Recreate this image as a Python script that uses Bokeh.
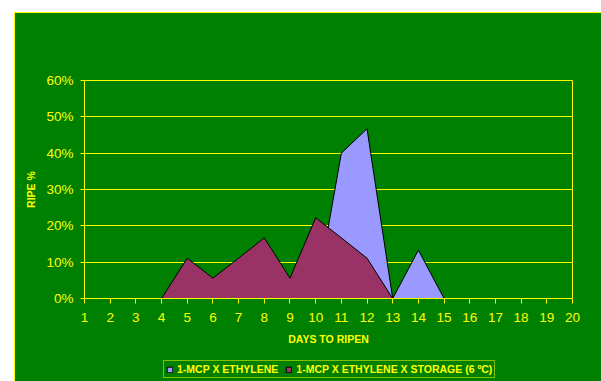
from bokeh.plotting import figure
from bokeh.layouts import column
from bokeh.models import Legend, LegendItem, NumeralTickFormatter, FixedTicker, Range1d
from bokeh.embed import file_html
from bokeh.resources import INLINE

# Days to ripen (x categories) and share of fruit ripe on each day
days = list(range(1, 21))
ethylene = [0, 0, 0, 0, 0, 0, 0, 0, 0, 0,
            0.400, 0.467, 0, 0.133, 0, 0, 0, 0, 0, 0]
ethylene_storage = [0, 0, 0, 0, 0.111, 0.056, 0.111, 0.167, 0.056, 0.222,
                    0.167, 0.111, 0, 0, 0, 0, 0, 0, 0, 0]
y_ticks = [0, 0.1, 0.2, 0.3, 0.4, 0.5, 0.6]

series_names = ["1-MCP X ETHYLENE", "1-MCP X ETHYLENE X STORAGE (6 ºC)"]
series_colors = ["#9999FF", "#993366"]
x_title = "DAYS TO RIPEN"
y_title = "RIPE %"

GREEN = "#008000"
YELLOW = "#FFFF00"
FONT = "Liberation Sans"

# ---- main chart -------------------------------------------------------
p = figure(
    width=586, height=345,
    output_backend="svg", toolbar_location=None,
    x_range=Range1d(1, 20), y_range=Range1d(0, 0.6),
    min_border_left=69, min_border_right=29,
    min_border_top=67, min_border_bottom=60,
    background_fill_color=GREEN, border_fill_color=GREEN,
    outline_line_color=YELLOW, outline_line_width=1,
    margin=0, frame_align=False,
)

p.patch(days, ethylene, fill_color=series_colors[0], line_color="black", line_width=1)
p.patch(days, ethylene_storage, fill_color=series_colors[1], line_color="black", line_width=1)

p.xaxis.ticker = FixedTicker(ticks=days)
p.yaxis.ticker = FixedTicker(ticks=y_ticks)
p.yaxis.formatter = NumeralTickFormatter(format="0%")
p.xaxis.axis_label = x_title
p.yaxis.axis_label = y_title

for ax in (p.xaxis, p.yaxis):
    ax.axis_line_color = YELLOW
    ax.major_tick_line_color = YELLOW
    ax.minor_tick_line_color = None
    ax.major_tick_in = 0
    ax.major_label_text_color = YELLOW
    ax.major_label_text_font = FONT
    ax.major_label_text_font_size = "13.5px"
    ax.axis_label_text_color = YELLOW
    ax.axis_label_text_font = FONT
    ax.axis_label_text_font_style = "bold"
    ax.axis_label_text_font_size = "10.5px"

p.yaxis.axis_label_standoff = 6
p.yaxis.major_tick_out = 4
p.yaxis.major_label_standoff = 7
p.xaxis.major_tick_out = 5
p.xaxis.major_label_standoff = 9
p.xaxis.axis_label_standoff = 8

p.xgrid.grid_line_color = None
p.ygrid.grid_line_color = YELLOW
p.ygrid.grid_line_width = 1

# ---- legend strip under the chart -------------------------------------
# the same series are bound here only as legend keys; the y range keeps
# their areas out of this strip's view
lg = figure(
    width=586, height=23,
    output_backend="svg", toolbar_location=None,
    x_range=Range1d(1, 20), y_range=Range1d(1, 2),
    x_axis_type=None, y_axis_type=None,
    min_border=0, min_border_left=0, min_border_right=0,
    min_border_top=0, min_border_bottom=0,
    background_fill_color=GREEN, border_fill_color=GREEN,
    outline_line_color=None,
    margin=0, frame_align=False,
)
k1 = lg.patch(days, ethylene, fill_color=series_colors[0], line_color="black", line_width=1)
k2 = lg.patch(days, ethylene_storage, fill_color=series_colors[1], line_color="black", line_width=1)

legend = Legend(
    items=[LegendItem(label=series_names[0], renderers=[k1]),
           LegendItem(label=series_names[1], renderers=[k2])],
    orientation="horizontal",
    location=(148, 3),
    background_fill_color=GREEN, background_fill_alpha=1,
    border_line_color=YELLOW, border_line_width=1,
    label_text_color=YELLOW, label_text_font=FONT,
    label_text_font_style="bold", label_text_font_size="10.5px",
    glyph_width=7, glyph_height=7, label_height=12, label_standoff=4,
    spacing=7, padding=2, margin=0,
)
lg.add_layout(legend, "center")

# green panel with a thin yellow edge on its top and left
page = column(
    p, lg, spacing=0, margin=(12, 0, 0, 14),
    width=587, height=369,
    styles={"background-color": GREEN,
            "border-left": "1px solid #FFFF00",
            "border-top": "1px solid #FFFF00"},
)

open("out.html", "w").write(file_html(page, INLINE))
